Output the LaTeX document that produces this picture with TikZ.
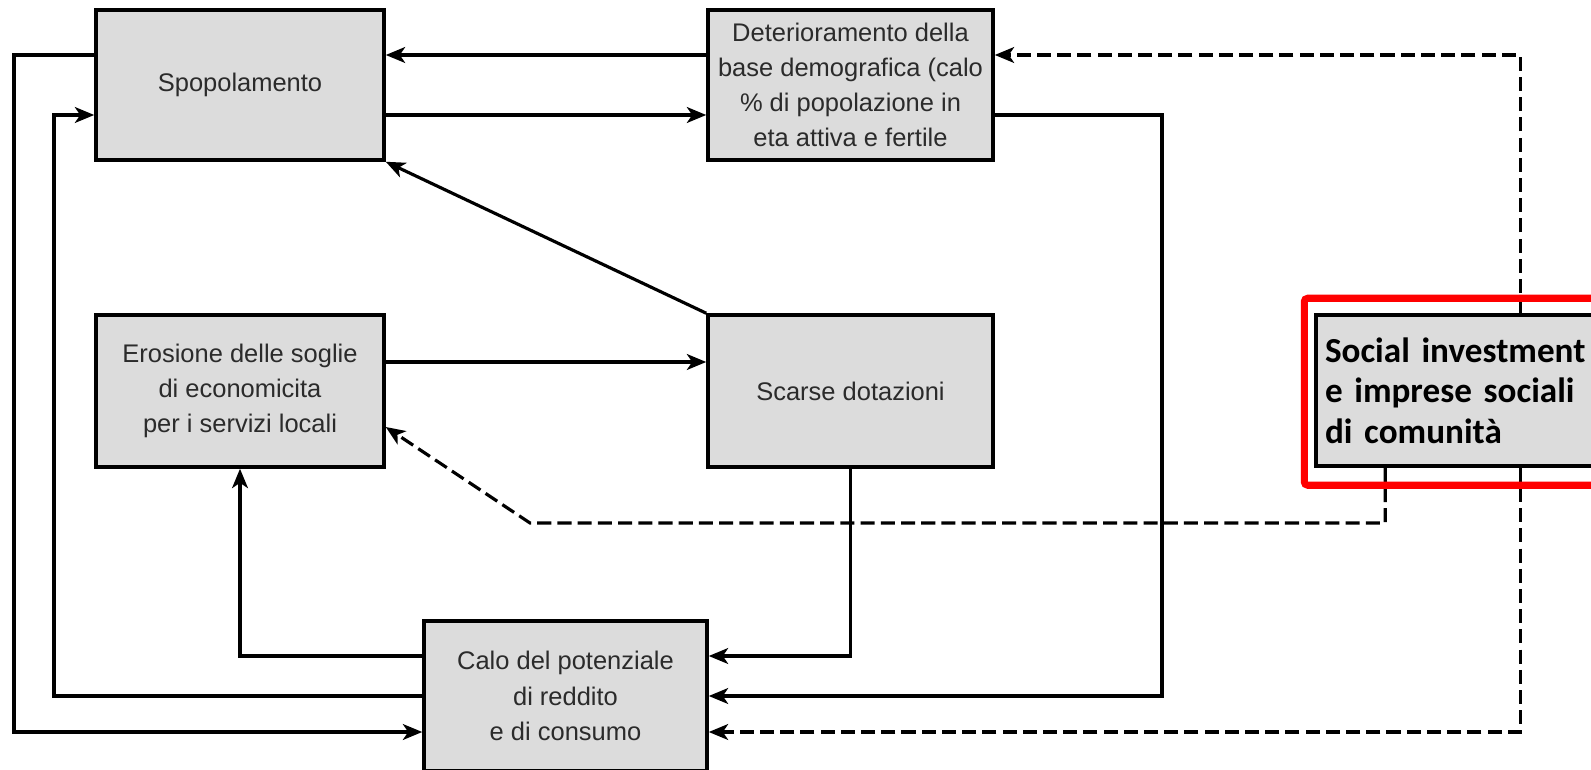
\documentclass[tikz,border=0pt]{standalone}
\usepackage{fontspec}
\setmainfont{Liberation Sans}
\newfontfamily\socialfont{Carlito}
\usepackage{tikz}
\usetikzlibrary{arrows.meta, positioning, calc}
\definecolor{BoxGray}{HTML}{DCDCDC}
\definecolor{TextGray}{HTML}{2B2B2B}
\definecolor{FrameRed}{HTML}{FF0000}

\begin{document}
\begin{tikzpicture}[
  box/.style={draw, line width=2pt, fill=BoxGray, minimum width=5.7cm, minimum height=3cm, font=\fontsize{14.5}{20}\selectfont, align=center, text=TextGray},
  socialbox/.style={box, text width=5.34cm, align=left, inner xsep=0.18cm, font=\socialfont\bfseries\fontsize{20}{23}\selectfont, text=black},
  flow/.style={line width=1.8pt, -{Stealth[length=11pt, width=9pt, inset=3pt]}},
  dflow/.style={flow, dash pattern=on 8pt off 3.5pt}
]
% Canvas
\useasboundingbox (0,0) rectangle (31.82,15.38);

% Boxes
\node[box, minimum width=5.76cm] (spop) at (4.8,13.68) {Spopolamento};
\node[box] (deter) at (17.01,13.68) {Deterioramento della\\base demografica (calo\\\% di popolazione in\\eta attiva e fertile};
\node[box, minimum width=5.76cm, minimum height=3.04cm] (eros) at (4.8,7.56) {Erosione delle soglie\\di economicita\\per i servizi locali};
\node[box, minimum height=3.04cm] (scarse) at (17.01,7.56) {Scarse dotazioni};
\node[box, minimum width=5.66cm] (calo) at (11.31,1.46) {Calo del potenziale\\di reddito\\e di consumo};
\node[socialbox, minimum height=3.02cm] (social) at (29.17,7.57) {Social investment\\e imprese sociali\\di comunità};

% Lanes
\coordinate (laneA) at (0.28,7);
\coordinate (laneB) at (1.08,7);
\coordinate (laneC) at (23.24,7);
\coordinate (bend) at (10.6,4.92);

% Solid links
\draw[flow] ([yshift=0.6cm]deter.west) -- ([yshift=0.6cm]spop.east);
\draw[flow] ([yshift=-0.6cm]spop.east) -- ([yshift=-0.6cm]deter.west);
\draw[flow] (scarse.north west) -- (spop.south east);
\draw[flow] ([yshift=0.58cm]eros.east) -- ([yshift=0.58cm]scarse.west);
\draw[flow] (scarse.south) |- ([yshift=0.8cm]calo.east);
\draw[flow] ([yshift=-0.6cm]deter.east) -| (laneC) |- (calo.east);
\draw[flow] ([yshift=0.8cm]calo.west) -| (eros.south);
\draw[flow] (calo.west) -| (laneB) |- ([yshift=-0.6cm]spop.west);
\draw[flow] ([yshift=0.6cm]spop.west) -| (laneA) |- ([yshift=-0.72cm]calo.west);

% Dashed links
\draw[dflow] ($(social.north west)+(4.12,0)$) |- ([yshift=0.6cm]deter.east);
\draw[dflow] ($(social.south west)+(1.42,0)$) |- (bend) -- ([yshift=-0.72cm]eros.east);
\draw[dflow] ($(social.south west)+(4.12,0)$) |- ([yshift=-0.72cm]calo.east);

% Highlight
\draw[line width=4pt, FrameRed, rounded corners=2pt] ($(social.north west)+(-0.2,0.3)$) rectangle ($(social.south east)+(0.3,-0.35)$);
\end{tikzpicture}
\end{document}
